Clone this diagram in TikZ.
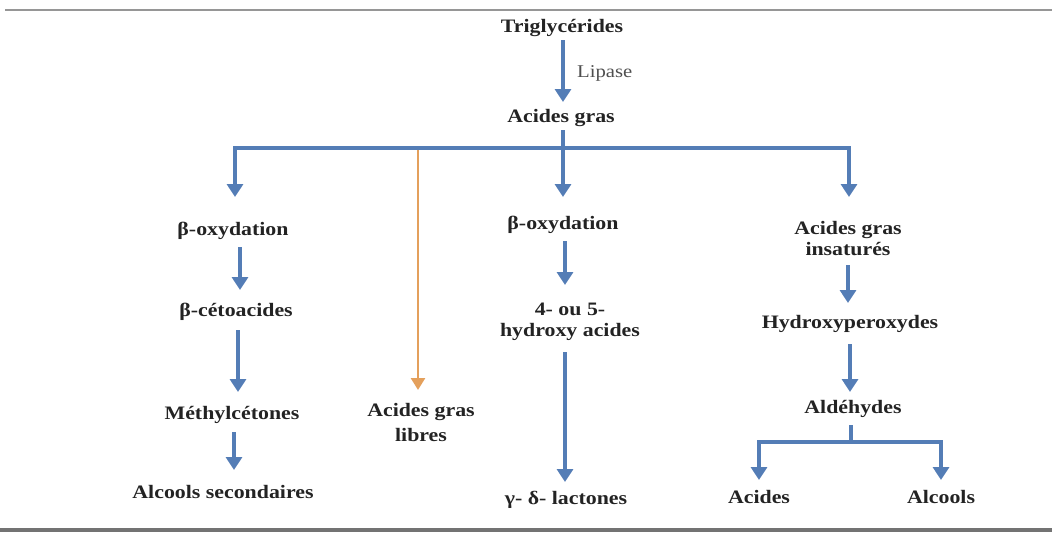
\documentclass[tikz,border=0pt]{standalone}
\usepackage{fontspec}
\newfontfamily\lab{Liberation Serif}[FakeStretch=1.15]
\usetikzlibrary{arrows.meta,calc}
\definecolor{blu}{RGB}{84,125,182}
\definecolor{org}{RGB}{228,160,92}
\definecolor{txt}{RGB}{35,35,35}
\definecolor{rule}{RGB}{150,150,150}
\definecolor{rulebot}{RGB}{115,115,115}
\begin{document}
\begin{tikzpicture}[x=1pt,y=-1pt,
  lbl/.style={font=\lab\bfseries\fontsize{19}{21}\selectfont, text=txt, inner sep=0pt, align=center},
  enz/.style={font=\lab\fontsize{18}{19}\selectfont, text=txt!80, inner sep=0pt},
  arr/.style={draw=blu, line width=3.3pt, -{Triangle[width=16pt,length=13pt]}},
  arrtwo/.style={draw=blu, line width=3.3pt, line join=miter, {Triangle[width=16pt,length=13pt]}-{Triangle[width=16pt,length=13pt]}},
  arrorg/.style={draw=org, line width=2.6pt, -{Triangle[width=14pt,length=12pt]}},
  plain/.style={draw=blu, line width=3.3pt}]
\useasboundingbox (0,0) rectangle (1052,533);
\draw[rule, line width=2pt] (5,10) -- (1052,10);
\draw[rulebot, line width=4pt] (0,530) -- (1052,530);

% nodes
\node[lbl] (tri) at (562,28) {Triglycérides};
\node[enz, anchor=west] (lip) at (577,73) {Lipase};
\node[lbl] (ag) at (561,118) {Acides gras};

\node[lbl] (bo1) at (233,231) {β-oxydation};
\node[lbl] (bc1) at (236,312) {β-cétoacides};
\node[lbl] (me1) at (232,415) {Méthylcétones};
\node[lbl] (al1) at (223,492) {Alcools secondaires};

\node[lbl, font=\lab\bfseries\fontsize{19}{25}\selectfont] (agl) at (421,422) {Acides gras\\libres};

\node[lbl] (bo2) at (563,225) {β-oxydation};
\node[lbl] (hy) at (570,322) {4- ou 5-\\hydroxy acides};
\node[lbl] (la) at (566,500) {γ- δ- lactones};

\node[lbl] (ins) at (848,239) {Acides gras\\insaturés};
\node[lbl] (hp) at (850,324) {Hydroxyperoxydes};
\node[lbl] (ald) at (853,409) {Aldéhydes};
\node[lbl] (ac) at (759,497) {Acides};
\node[lbl] (alc) at (941,497) {Alcools};

% junctions
\coordinate (jl) at (235,148);
\coordinate (jo) at (418,148);
\coordinate (jm) at (563,148);
\coordinate (jr) at (849,148);
\coordinate (ja) at (851,442);
\coordinate (jal) at (759,442);
\coordinate (jar) at (941,442);

% connectors
\draw[arr] ($(tri)+(1,12)$) -- ($(ag)+(2,-16)$);
\draw[plain] ($(ag)+(2,12)$) -- (jm);
\draw[arrorg] (jo) -- ($(agl)+(-3,-32)$);
\draw[arrtwo] ($(bo1)+(2,-34)$) -- (jl) -- (jr) -- ($(ins)+(1,-42)$);
\draw[arr] (jm) -- ($(bo2)+(0,-28)$);

\draw[arr] ($(bo1)+(7,16)$) -- ($(bc1)+(4,-22)$);
\draw[arr] ($(bc1)+(2,18)$) -- ($(me1)+(6,-23)$);
\draw[arr] ($(me1)+(2,17)$) -- ($(al1)+(11,-22)$);

\draw[arr] ($(bo2)+(2,16)$) -- ($(hy)+(-5,-37)$);
\draw[arr] ($(hy)+(-5,30)$) -- ($(la)+(-1,-18)$);

\draw[arr] ($(ins)+(0,26)$) -- ($(hp)+(-2,-21)$);
\draw[arr] ($(hp)+(0,20)$) -- ($(ald)+(-3,-17)$);
\draw[plain] ($(ald)+(-2,16)$) -- (ja);
\draw[arrtwo] ($(ac)+(0,-17)$) -- (jal) -- (jar) -- ($(alc)+(0,-17)$);
\end{tikzpicture}
\end{document}
